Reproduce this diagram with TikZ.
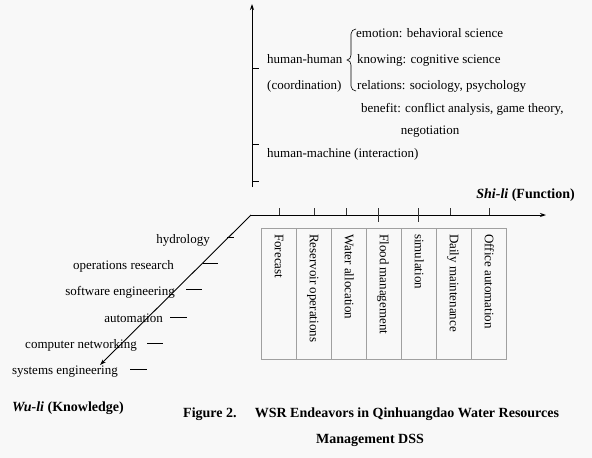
\documentclass[tikz,border=0pt]{standalone}
\usepackage{fontspec}
\setmainfont{Liberation Serif}
\usetikzlibrary{arrows.meta}
\definecolor{bgc}{HTML}{F8F8F8}
\definecolor{boxc}{HTML}{A0A0A0}
\begin{document}
\begin{tikzpicture}[x=1pt,y=-1pt,
  lbl/.style={inner sep=0pt, font=\fontsize{13}{15}\selectfont},
  blbl/.style={inner sep=0pt, font=\fontsize{14}{16}\selectfont\bfseries},
  axis/.style={draw=black, line width=0.9pt},
  tick/.style={draw=black!80, line width=0.8pt},
  tip/.style={-{Stealth[length=6pt,width=4pt]}},
  fbox/.style={draw=boxc, line width=0.8pt, minimum width=35pt, minimum height=131pt, inner sep=0pt, anchor=north west},
  vtext/.style={lbl, rotate=-90, anchor=base west}]
\useasboundingbox[fill=bgc] (0,0) rectangle (592,458);
% axes
\coordinate (vb) at (252,187);
\coordinate (vt) at (252,4);
\coordinate (O) at (251,215);
\coordinate (hx) at (546,215);
\coordinate (dx) at (100,365);
\draw[axis,tip] (vb) -- (vt);
\draw[axis,tip] (O) -- (hx);
\draw[axis,tip] (O) -- (dx);
% vertical ticks
\foreach \y in {68,144,181} \draw[axis] (252,\y) -- (259,\y);
% horizontal ticks
\foreach \x in {279,314,346,450,489} \draw[tick] (\x,208) -- (\x,215);
\foreach \x in {378,418} \draw[tick] (\x,208) -- (\x,222);
% diagonal ticks
\draw[axis] (227,237) -- (234,237);
\draw[axis] (203,263) -- (218,263);
\draw[axis] (186,289) -- (202,289);
\draw[axis] (170,317) -- (187,317);
\draw[axis] (147,343) -- (163,343);
\draw[axis] (130,369) -- (147,369);
% function boxes
\node[fbox] (b1) at (261,228) {};
\node[fbox] (b2) at (296,228) {};
\node[fbox] (b3) at (331,228) {};
\node[fbox] (b4) at (366,228) {};
\node[fbox] (b5) at (401,228) {};
\node[fbox] (b6) at (436,228) {};
\node[fbox] (b7) at (471,228) {};
\node[vtext] (t1) at ([xshift=-4pt,yshift=-6pt]b1.north) {Forecast};
\node[vtext] (t2) at ([xshift=-4pt,yshift=-6pt]b2.north) {Reservoir operations};
\node[vtext] (t3) at ([xshift=-4pt,yshift=-6pt]b3.north) {Water allocation};
\node[vtext] (t4) at ([xshift=-4pt,yshift=-6pt]b4.north) {Flood management};
\node[vtext] (t5) at ([xshift=-4pt,yshift=-6pt]b5.north) {simulation};
\node[vtext] (t6) at ([xshift=-4pt,yshift=-6pt]b6.north) {Daily maintenance};
\node[vtext] (t7) at ([xshift=-4pt,yshift=-6pt]b7.north) {Office automation};
% upper labels
\node[lbl,anchor=base west] (hh) at (267,63) {human-human};
\node[lbl,anchor=base west] (co) at (267,89) {(coordination)};
\node[lbl,anchor=base west] (em) at (356,37) {emotion: behavioral science};
\node[lbl,anchor=base west] (kn) at (357,63) {knowing: cognitive science};
\node[lbl,anchor=base west] (re) at (357,89) {relations: sociology, psychology};
\node[lbl,anchor=base west] (be) at (361,112) {benefit: conflict analysis, game theory,};
\node[lbl,anchor=base] (ne) at (430,134) {negotiation};
\node[lbl,anchor=base west] (hm) at (267,157) {human-machine (interaction)};
\draw[line width=0.6pt] (356,29) to[out=180,in=90] (351,34) -- (351,55)
  to[out=-90,in=0] (347,60) to[out=0,in=90] (351,65) -- (351,86)
  to[out=-90,in=180] (356,91);
% left labels
\node[lbl,anchor=base east] (l1) at (210,243) {hydrology};
\node[lbl,anchor=base east] (l2) at (174,269) {operations research};
\node[lbl,anchor=base east] (l3) at (175,295) {software engineering};
\node[lbl,anchor=base east] (l4) at (163,322) {automation};
\node[lbl,anchor=base east] (l5) at (137,348) {computer networking};
\node[lbl,anchor=base east] (l6) at (118,374) {systems engineering};
% axis titles
\node[blbl,anchor=base east] (shi) at (575,198) {\textit{Shi-li} (Function)};
\node[blbl,anchor=base west] (wu) at (12,411) {\textit{Wu-li} (Knowledge)};
% caption
\node[blbl,anchor=base west] (cap1) at (183,417) {Figure 2.\hspace{1.3em}WSR Endeavors in Qinhuangdao Water Resources};
\node[blbl,anchor=base] (cap2) at (370,443) {Management DSS};
\end{tikzpicture}
\end{document}
